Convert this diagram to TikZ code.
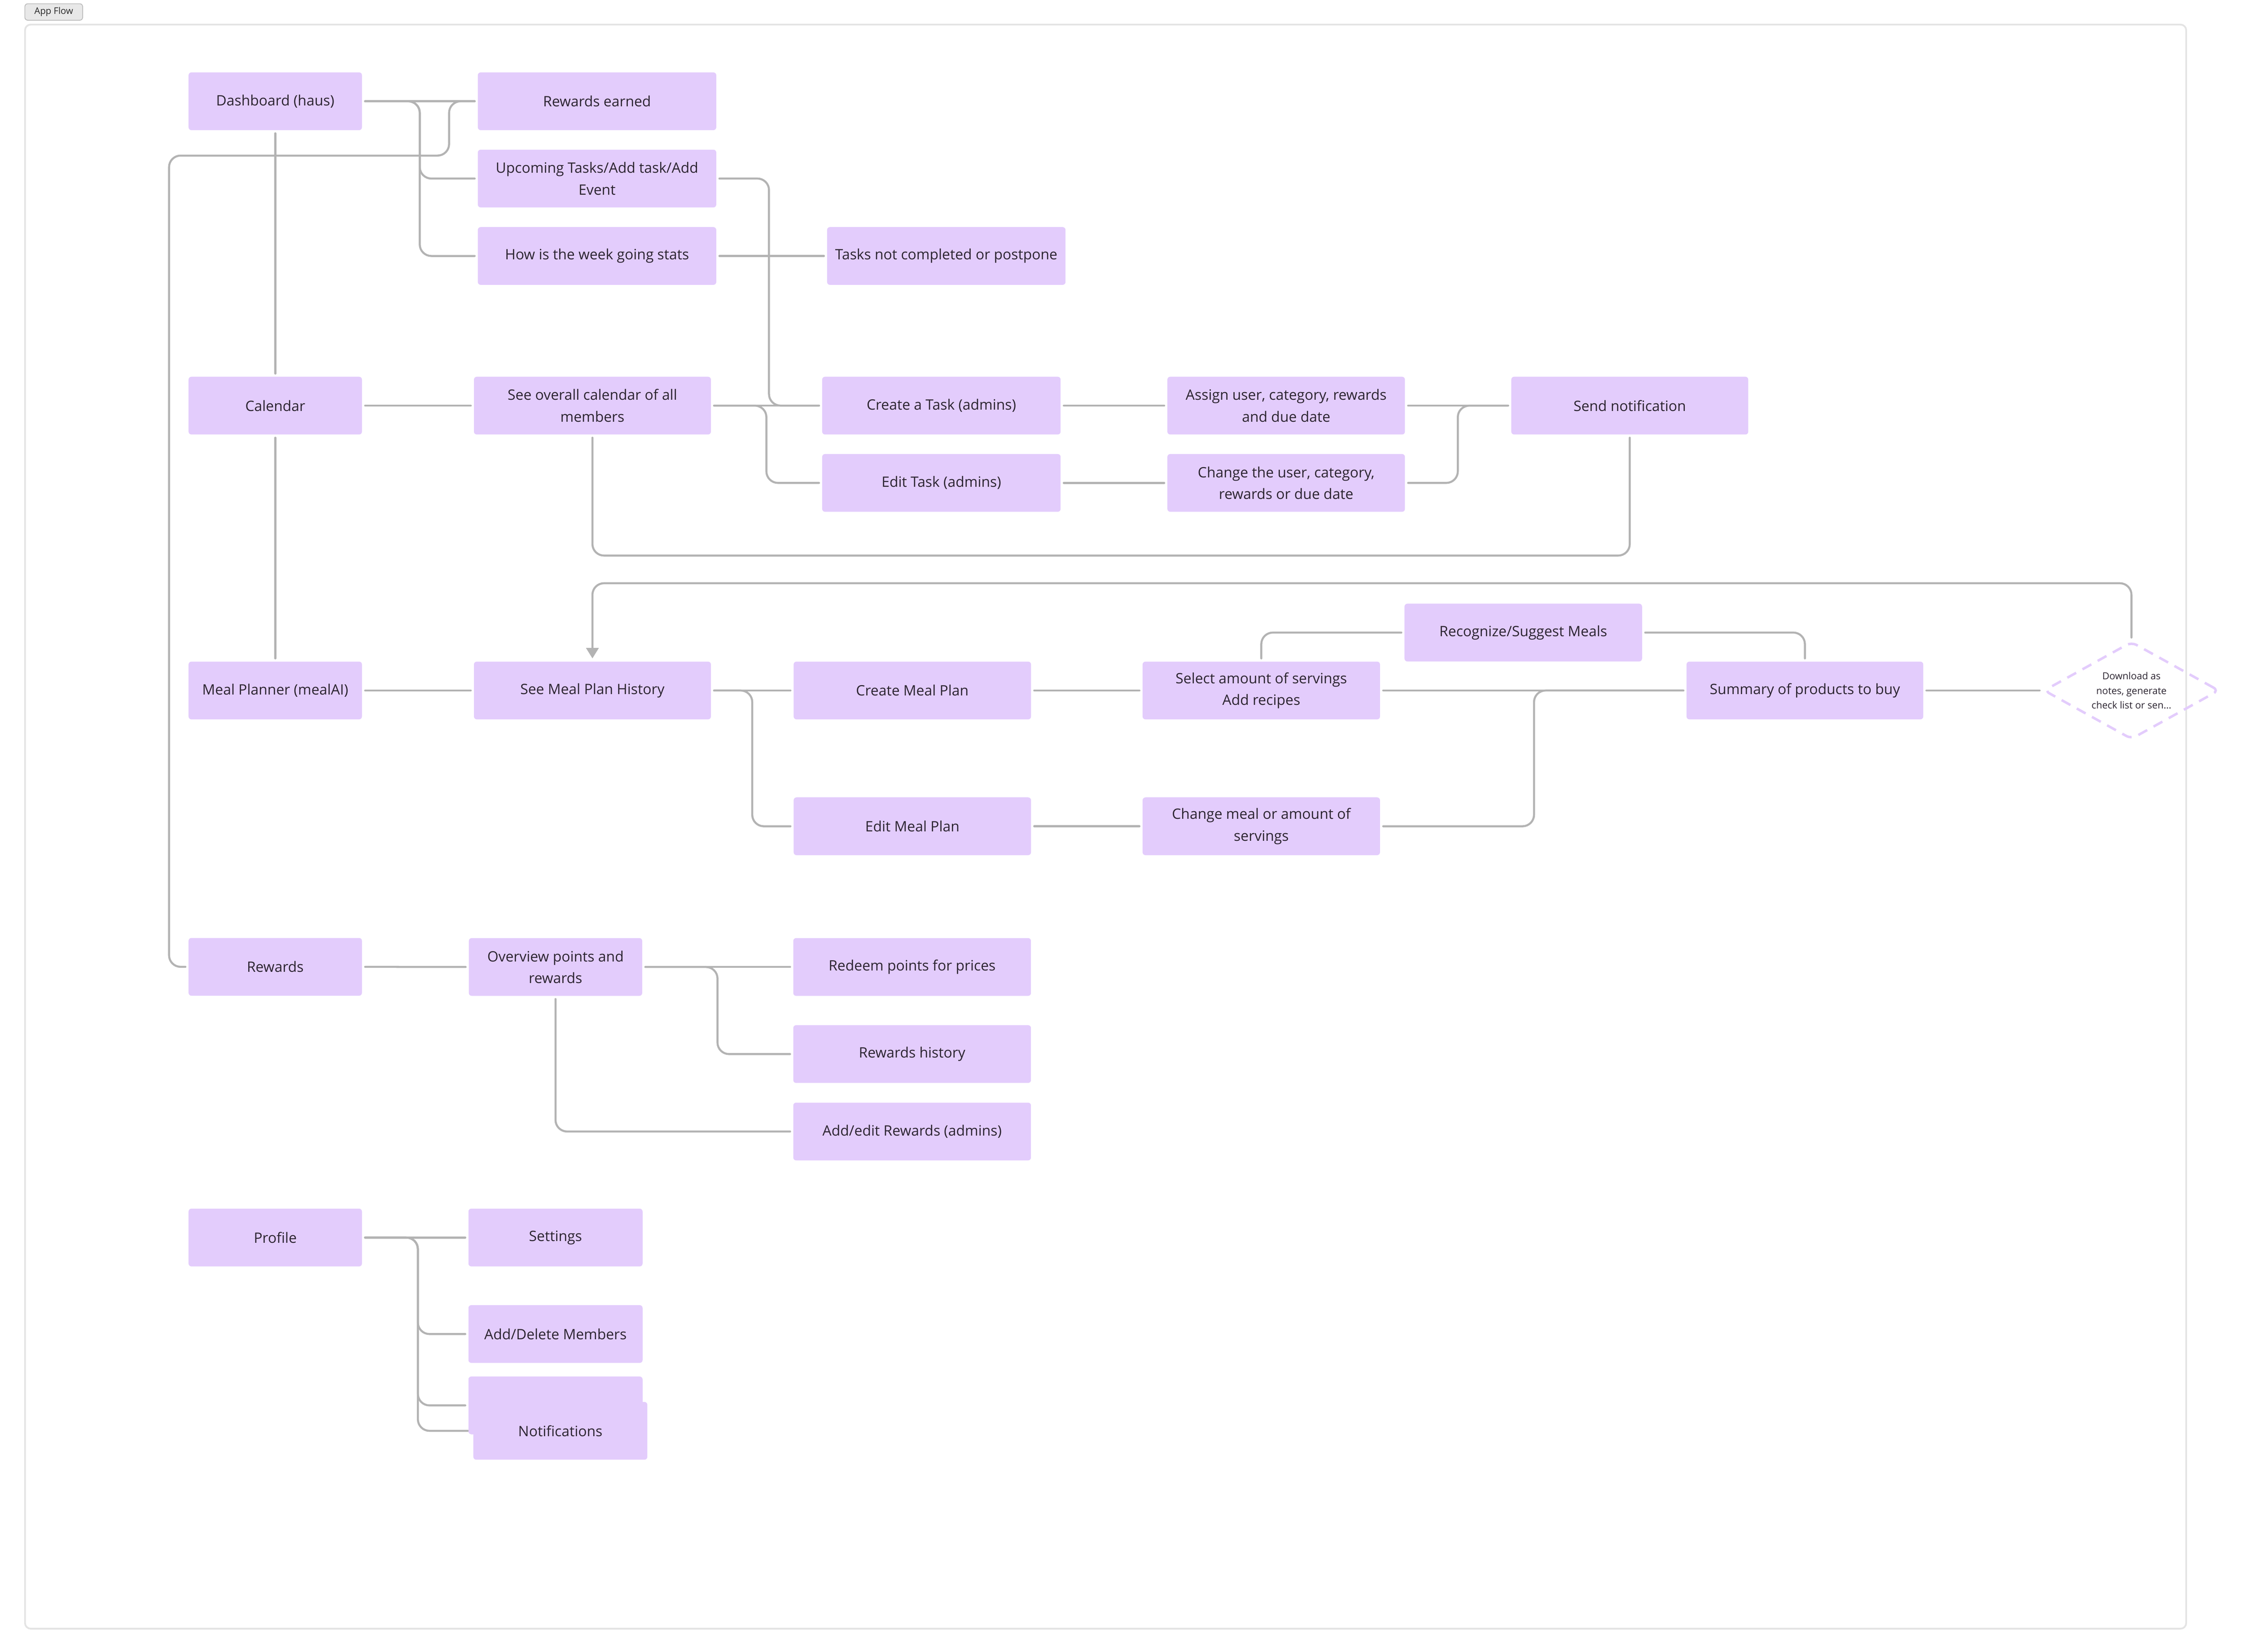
\documentclass[tikz,border=0pt]{standalone}
\usepackage{fontspec}
\setmainfont{Open Sans}
\usetikzlibrary{arrows.meta,shapes.geometric,backgrounds}
\definecolor{boxfill}{HTML}{E3CCFC}
\definecolor{linec}{HTML}{B3B3B3}
\definecolor{txtc}{HTML}{2B2430}
\definecolor{framec}{HTML}{E4E4E4}
\begin{document}
\begin{tikzpicture}[x=1pt,y=-1pt,
  box/.style={fill=boxfill, rounded corners=2pt, minimum height=40pt, inner sep=1pt,
    align=center, text=txtc, font=\fontsize{9.9}{15}\selectfont},
  conn/.style={draw=linec, line width=1.4pt, rounded corners=8pt, line cap=round,
    shorten <=2pt, shorten >=2pt},
  tip/.style={-{Triangle[width=8.6pt,length=7.3pt]}}
]
\useasboundingbox (0,0) rectangle (1553,1143.4);

% frame and title tag
\draw[framec, line width=1.2pt, rounded corners=4pt] (17.3,17) rectangle (1513,1127.5);
\node[fill=black!9, draw=black!28, line width=0.5pt, rounded corners=2pt, minimum width=40pt,
  minimum height=11.4pt, inner sep=0pt, text=black!85, font=\fontsize{6.3}{7}\selectfont]
  (appflow) at (37.2,8.3) {App Flow};

% column 1
\node[box, minimum width=120pt] (dash) at (190.5,70.1) {Dashboard (haus)};
\node[box, minimum width=120pt] (cal)  at (190.5,280.8) {Calendar};
\node[box, minimum width=120pt] (meal) at (190.5,478) {Meal Planner (mealAI)};
\node[box, minimum width=120pt] (rwd)  at (190.5,669.3) {Rewards};
\node[box, minimum width=120pt] (prof) at (190.5,856.7) {Profile};

% dashboard branch
\node[box, minimum width=165pt] (rewe) at (413.2,70.1) {Rewards earned};
\node[box, minimum width=165pt] (upc)  at (413.2,123.6) {Upcoming Tasks/Add task/Add\\Event};
\node[box, minimum width=165pt] (week) at (413.2,177.2) {How is the week going stats};
\node[box, minimum width=165pt] (tnc)  at (654.9,177.2) {Tasks not completed or postpone};

% calendar branch
\node[box, minimum width=164pt] (soc)    at (410,280.8) {See overall calendar of all\\members};
\node[box, minimum width=165pt] (ctask)  at (651.5,280.8) {Create a Task (admins)};
\node[box, minimum width=165pt] (etask)  at (651.5,334.3) {Edit Task (admins)};
\node[box, minimum width=164.4pt] (assign) at (890.1,280.8) {Assign user, category, rewards\\and due date};
\node[box, minimum width=164.4pt] (chg)    at (890.1,334.3) {Change the user, category,\\rewards or due date};
\node[box, minimum width=164pt] (send)   at (1127.9,280.8) {Send notification};

% meal branch
\node[box, minimum width=164pt] (smh) at (410,478) {See Meal Plan History};
\node[box, minimum width=164.3pt] (cmp) at (631.4,478) {Create Meal Plan};
\node[box, minimum width=164.3pt] (emp) at (631.4,572) {Edit Meal Plan};
\node[box, minimum width=164.3pt] (sel) at (872.9,478) {Select amount of servings\\Add recipes};
\node[box, minimum width=164.3pt] (chm) at (872.9,572) {Change meal or amount of\\servings};
\node[box, minimum width=164.4pt] (rec) at (1054.2,437.9) {Recognize/Suggest Meals};
\node[box, minimum width=163.8pt] (sum) at (1249.1,478) {Summary of products to buy};
\node[diamond, draw=boxfill, dash pattern=on 7pt off 5pt, line width=1.7pt, rounded corners=4pt,
  minimum width=121.4pt, minimum height=67.6pt, inner sep=0pt, aspect=1.8,
  label={[font=\fontsize{6.7}{10}\selectfont, text=txtc, align=center]center:Download as\\notes, generate\\check list or sen...}]
  (dia) at (1475.1,478) {};

% rewards branch
\node[box, minimum width=120pt] (ovr) at (384.45,669.4) {Overview points and\\rewards};
\node[box, minimum width=164.5pt] (red)  at (631.25,669.4) {Redeem points for prices};
\node[box, minimum width=164.5pt] (hist) at (631.25,729.7) {Rewards history};
\node[box, minimum width=164.5pt] (adde) at (631.25,783.3) {Add/edit Rewards (admins)};

% profile branch
\node[box, minimum width=120.5pt] (sett)  at (384.45,856.7) {Settings};
\node[box, minimum width=120.5pt] (addm)  at (384.45,923.5) {Add/Delete Members};
\node[box, minimum width=120.5pt] (hid)   at (384.45,972.9) {};
\node[box, minimum width=120.4pt] (notif) at (387.8,990.5) {Notifications};

\begin{pgfonlayer}{background}
% dashboard
\path[conn] (dash.east) -- (rewe.west);
\path[conn] (dash.east) -- ++(39.8,0) |- (upc.west);
\path[conn] (dash.east) -- ++(39.8,0) |- (week.west);
\path[conn] (rewe.west) -| (310.8,107.7) -| (117,669.3) -- (rwd.west);
\path[conn] (dash.south) -- (cal.north);
\path[conn] (cal.south) -- (meal.north);
\path[conn] (upc.east) -- ++(36.3,0) |- (ctask.west);
\path[conn] (week.east) -- (tnc.west);
% calendar
\path[conn] (cal.east) -- (soc.west);
\path[conn] (soc.east) -- (ctask.west);
\path[conn] (soc.east) -- ++(38.2,0) |- (etask.west);
\path[conn] (ctask.east) -- (assign.west);
\path[conn] (etask.east) -- (chg.west);
\path[conn] (assign.east) -- (send.west);
\path[conn] (chg.east) -- ++(36.4,0) |- (send.west);
\path[conn] (soc.south) -- ++(0,83.6) -| (send.south);
% meal planner
\path[conn] (meal.east) -- (smh.west);
\path[conn] (smh.east) -- (cmp.west);
\path[conn] (smh.east) -- ++(28.4,0) |- (emp.west);
\path[conn] (cmp.east) -- (sel.west);
\path[conn] (emp.east) -- (chm.west);
\path[conn] (sel.east) -- (sum.west);
\path[conn] (chm.east) -- ++(106.4,0) |- (sum.west);
\path[conn] (sel.north) |- (rec.west);
\path[conn] (rec.east) -| (sum.north);
\path[conn] (sum.east) -- (dia.west);
\path[conn, tip] (dia.north) -- ++(0,-39.6) -| (smh.north);
% rewards
\path[conn] (rwd.east) -- (ovr.west);
\path[conn] (ovr.east) -- (red.west);
\path[conn] (ovr.east) -- ++(51.9,0) |- (hist.west);
\path[conn] (ovr.south) |- (adde.west);
% profile
\path[conn] (prof.east) -- (sett.west);
\path[conn] (prof.east) -- ++(38.5,0) |- (addm.west);
\path[conn] (prof.east) -- ++(38.5,0) |- (hid.west);
\path[conn] (prof.east) -- ++(38.5,0) |- (notif.west);
\end{pgfonlayer}
\end{tikzpicture}
\end{document}
